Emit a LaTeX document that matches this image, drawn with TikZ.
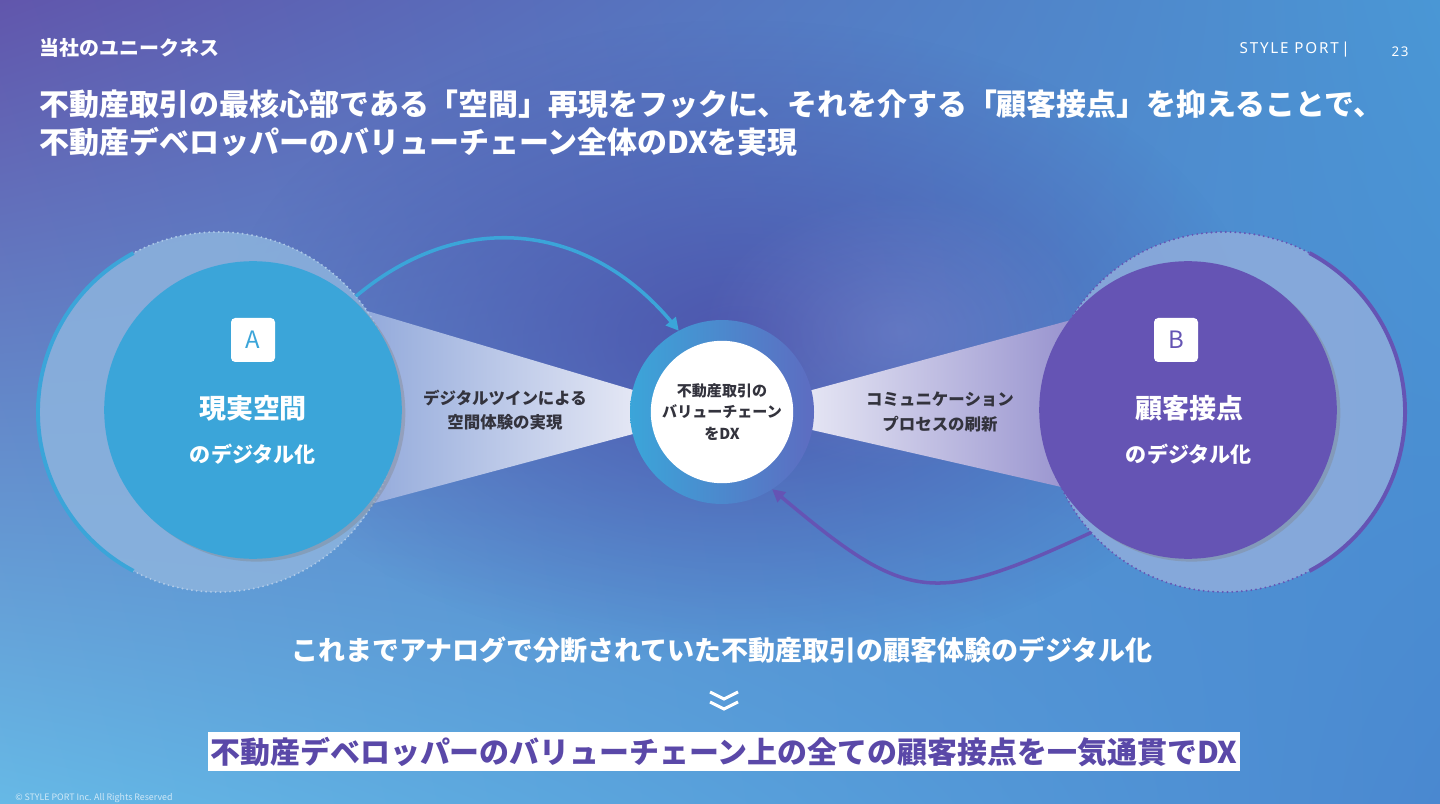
\documentclass[tikz,border=0pt]{standalone}
\usepackage{fontspec}
\setmainfont{Noto Sans CJK JP}
\newfontfamily\brandfont[LetterSpace=12]{Noto Sans}
\usetikzlibrary{arrows.meta,positioning,fadings,shadows,shadings}
\definecolor{BgUL}{HTML}{6156AC}
\definecolor{BgUR}{HTML}{4A97D5}
\definecolor{BgLL}{HTML}{66B9E6}
\definecolor{BgLR}{HTML}{4A88D0}
\definecolor{BgMid}{HTML}{4A45A3}
\definecolor{BgGlow}{HTML}{8C9CDA}
\definecolor{SpotBlue}{HTML}{3BA5D9}
\definecolor{SpotPurple}{HTML}{6554B4}
\definecolor{RingBlue}{HTML}{8DB4DE}
\definecolor{RingPurple}{HTML}{8FADDC}
\definecolor{CoreRight}{HTML}{5D6CC1}
\definecolor{BeamWhite}{HTML}{ECEDF7}
\definecolor{BeamBlue}{HTML}{7F9BD5}
\definecolor{BeamPurple}{HTML}{8A84C8}
\definecolor{InkDark}{HTML}{33333D}
\definecolor{BannerInk}{HTML}{5A48A8}
\tikzfading[name=softglow, inner color=transparent!25, outer color=transparent!100]

\begin{document}
\begin{tikzpicture}[
  every node/.style={font=\bfseries, text=white},
  spot/.style={circle, minimum size=7.44cm, inner sep=0pt, outer sep=0pt,
               drop shadow={opacity=.35, shadow xshift=2.5pt, shadow yshift=-2pt}},
  ring/.style={circle, minimum size=9cm, inner sep=0pt, outer sep=0pt, fill opacity=.85},
  badge/.style={fill=white, rounded corners=3pt, minimum size=1.1cm, inner sep=0pt,
                font=\fontsize{17}{17}\selectfont},
  beamtxt/.style={align=center, text=InkDark, font=\fontsize{11.7}{17.5}\selectfont\bfseries},
  big/.style={font=\fontsize{19.2}{22}\selectfont\bfseries},
  sub/.style={font=\fontsize{15}{18}\selectfont\bfseries},
  title/.style={anchor=west, font=\fontsize{21.3}{25}\selectfont\bfseries},
  dots/.style={line width=1.5pt, line cap=round, dash pattern=on 0pt off 3.4pt},
  bow/.style={->, line width=2.5pt},
  >={Triangle[length=9pt, width=9pt]}]
  \useasboundingbox (0,0) rectangle (36,-20.1);
  \clip (0,0) rectangle (36,-20.1);
  \shade[upper left=BgUL, upper right=BgUR, lower left=BgLL, lower right=BgLR]
    (0,0) rectangle (36,-20.1);
  \fill[BgMid, path fading=softglow] (18.5,-8.5) ellipse [x radius=13, y radius=8];
  \fill[BgGlow, path fading=softglow, opacity=.45] (22.5,-8.3) ellipse [x radius=5, y radius=3.5];

  \shade[left color=BeamBlue, right color=BeamWhite]
    (7.5,-7.275) -- (16.5,-9.95) -- (16.5,-10.67) -- (7.5,-13.075) -- cycle;
  \shade[left color=BeamWhite, right color=BeamPurple]
    (19.6,-9.94) -- (28,-7.67) -- (28,-12.51) -- (19.6,-10.59) -- cycle;

  \node[ring, fill=RingBlue] (ringA) at (5.45,-10.3) {};
  \draw[RingBlue!70!white, dots] (ringA.center) circle (4.5);
  \draw[SpotBlue, line width=2.8pt] (ringA.118) arc[start angle=118, end angle=242, radius=4.5];
  \node[ring, fill=RingPurple] (ringB) at (30.625,-10.3) {};
  \draw[SpotPurple, dots] (ringB.center) circle (4.5);
  \draw[SpotPurple, line width=2.8pt] (ringB.-62) arc[start angle=-62, end angle=62, radius=4.5];

  \node[spot, fill=SpotBlue] (spotA) at (6.325,-10.25) {};
  \node[spot, fill=SpotPurple] (spotB) at (29.7,-10.25) {};

  \node[circle, minimum size=4.6cm, inner sep=0pt, outer sep=0pt,
        left color=SpotBlue, right color=CoreRight] (core) at (18.05,-10.3) {};
  \node[circle, fill=white, minimum size=3.56cm, inner sep=0pt, align=center, text=InkDark,
        font=\fontsize{10.7}{15}\selectfont\bfseries] (coreIn) at (core.center)
    {不動産取引の\\バリューチェーン\\をDX};

  \draw[bow, SpotBlue] (ringA.40) to[out=40, in=130, looseness=1.1] (core.118);
  \draw[bow, SpotPurple] (ringB.222) to[out=205, in=-40, looseness=1.4] (core.-57);

  \node[badge, text=SpotBlue] (badgeA) at (6.325,-8.5) {A};
  \node[badge, text=SpotPurple] (badgeB) at (29.4,-8.5) {B};
  \node[big] (nameA) at (6.325,-10.2) {現実空間};
  \node[sub] (subA) at (6.325,-11.35) {のデジタル化};
  \node[big] (nameB) at (29.725,-10.2) {顧客接点};
  \node[sub] (subB) at (29.725,-11.35) {のデジタル化};
  \node[beamtxt] (twin) at (12.625,-10.25) {デジタルツインによる\\空間体験の実現};
  \node[beamtxt] (comm) at (23.5,-10.3) {コミュニケーション\\プロセスの刷新};

  \node[anchor=west, font=\fontsize{14.2}{17}\selectfont\bfseries] (sect) at (0.875,-1.2) {当社のユニークネス};
  \node[anchor=east, inner sep=0pt, font=\brandfont\fontsize{10.8}{12}\selectfont] (brand) at (33.75,-1.25) {STYLE PORT\,|};
  \node[inner sep=0pt, font=\brandfont\fontsize{9.5}{10}\selectfont] (page) at (35,-1.3) {23};
  \node[title] (title1) at (0.875,-2.6)
    {不動産取引の最核心部である「空間」再現をフックに、それを介する「顧客接点」を抑えることで、};
  \node[title] (title2) at (0.875,-3.55) {不動産デベロッパーのバリューチェーン全体のDXを実現};

  \node[font=\fontsize{19.2}{22}\selectfont\bfseries] (lead) at (18.05,-16.25)
    {これまでアナログで分断されていた不動産取引の顧客体験のデジタル化};
  \draw[white, line width=2.2pt] (17.75,-17.3) -- (18.1,-17.475) -- (18.45,-17.3);
  \draw[white, line width=2.2pt] (17.75,-17.55) -- (18.1,-17.725) -- (18.45,-17.55);
  \node[fill=white, text=BannerInk, inner xsep=2pt, minimum height=0.925cm,
        font=\fontsize{21.3}{24}\selectfont\bfseries] (banner) at (18.1,-18.79)
    {不動産デベロッパーのバリューチェーン上の全ての顧客接点を一気通貫でDX};
  \node[anchor=west, inner sep=0pt, text opacity=.7, font=\fontsize{6.3}{7}\selectfont] (copy) at (0.375,-19.95)
    {© STYLE PORT Inc. All Rights Reserved};
\end{tikzpicture}
\end{document}
